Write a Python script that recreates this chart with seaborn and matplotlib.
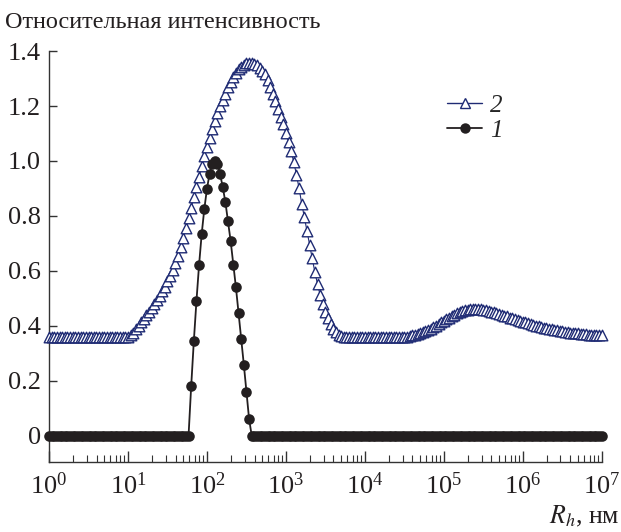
import numpy as np
import pandas as pd
import seaborn as sns
import matplotlib.pyplot as plt
from matplotlib.lines import Line2D
from matplotlib.ticker import LogLocator, NullFormatter, FixedLocator

# hydrodynamic radius grid: 30 bins per decade, 1 nm .. 1e7 nm
rh_nm = np.logspace(0, 7, 211)

# curve 2 (open triangles)
intensity_2 = (
    [0.358] * 31
    + [0.365, 0.375, 0.387, 0.399, 0.412, 0.425, 0.438, 0.452, 0.466, 0.480,
       0.495, 0.510, 0.526, 0.543, 0.562, 0.582, 0.603, 0.627, 0.655, 0.685,
       0.720, 0.755, 0.792, 0.830, 0.868, 0.905, 0.943, 0.980, 1.017, 1.052,
       1.085, 1.117, 1.147, 1.175, 1.200, 1.223, 1.245, 1.268, 1.288, 1.305,
       1.320, 1.333, 1.343, 1.350, 1.355, 1.357, 1.357, 1.354, 1.348, 1.338,
       1.328, 1.315, 1.295, 1.270, 1.245, 1.217, 1.190, 1.160, 1.135, 1.100,
       1.070, 1.035, 0.995, 0.950, 0.900, 0.845, 0.795, 0.745, 0.695, 0.645,
       0.595, 0.552, 0.512, 0.480, 0.452, 0.428, 0.407, 0.390, 0.377, 0.368,
       0.362]
    + [0.358] * 23
    + [0.360, 0.361, 0.363, 0.365, 0.367, 0.370, 0.373, 0.377, 0.381, 0.385,
       0.390, 0.395, 0.400, 0.406, 0.412, 0.418, 0.424, 0.430, 0.436, 0.441,
       0.446, 0.450, 0.454, 0.457, 0.459, 0.461, 0.462, 0.462, 0.461, 0.460,
       0.458, 0.456, 0.454, 0.452, 0.449, 0.446, 0.443, 0.440, 0.437, 0.434,
       0.430, 0.427, 0.424, 0.421, 0.418, 0.415, 0.412, 0.409, 0.406, 0.403,
       0.400, 0.398, 0.396, 0.393, 0.391, 0.389, 0.387, 0.385, 0.383, 0.381,
       0.380, 0.378, 0.377, 0.375, 0.374, 0.373, 0.372, 0.371, 0.370, 0.369,
       0.368, 0.367, 0.366, 0.366, 0.365, 0.365]
)

# curve 1 (filled circles)
intensity_1 = (
    [0.0] * 54
    + [0.180, 0.343, 0.490, 0.622, 0.735, 0.826, 0.899, 0.954, 0.990, 1.000,
       0.990, 0.951, 0.905, 0.850, 0.780, 0.708, 0.623, 0.540, 0.447, 0.352,
       0.259, 0.158, 0.061]
    + [0.0] * 134
)

df = pd.DataFrame({"Rh": rh_nm, "I2": intensity_2, "I1": intensity_1})

navy = "#1f2b74"
dark = "#231f20"

sns.set_style("ticks")
plt.rcParams["font.family"] = ["Liberation Serif", "DejaVu Serif"]
plt.rcParams["mathtext.fontset"] = "stix"

fig, ax = plt.subplots(figsize=(6.21, 5.32), dpi=100)
fig.subplots_adjust(left=0.079, right=0.969, bottom=0.132, top=0.904)

# curve 2: thin line plus every open triangle
sns.lineplot(data=df, x="Rh", y="I2", ax=ax, color=navy, linewidth=0.8,
             clip_on=False, legend=False)
sns.scatterplot(data=df, x="Rh", y="I2", ax=ax, marker="^", s=58,
                facecolor="white", edgecolor=navy, linewidth=1.0,
                clip_on=False, legend=False, zorder=3)

# curve 1: line plus filled circles
sns.lineplot(data=df, x="Rh", y="I1", ax=ax, color=dark, linewidth=1.3,
             clip_on=False, legend=False)
sns.scatterplot(data=df, x="Rh", y="I1", ax=ax, marker="o", s=58,
                color=dark, edgecolor=dark, linewidth=0,
                clip_on=False, legend=False, zorder=4)

ax.set_xscale("log")
ax.set_xlim(1, 1e7)
ax.set_ylim(-0.095, 1.4)
ax.xaxis.set_major_locator(LogLocator(base=10, numticks=10))
ax.xaxis.set_minor_locator(LogLocator(base=10, subs=np.arange(2, 10), numticks=20))
ax.xaxis.set_minor_formatter(NullFormatter())
ax.yaxis.set_major_locator(FixedLocator([0, 0.2, 0.4, 0.6, 0.8, 1.0, 1.2, 1.4]))
ax.set_yticklabels(["0", "0.2", "0.4", "0.6", "0.8", "1.0", "1.2", "1.4"])

ax.tick_params(axis="both", which="major", direction="in", labelsize=19,
               color="#333333", width=1.0, labelcolor="#231f20")
ax.tick_params(axis="x", which="major", length=8, pad=8)
ax.tick_params(axis="x", which="minor", direction="in", length=5,
               color="#333333", width=0.8)
ax.tick_params(axis="y", which="major", length=6, pad=6)

sns.despine(ax=ax)
for side in ["left", "bottom"]:
    ax.spines[side].set_color("#333333")
    ax.spines[side].set_linewidth(1.0)

ax.set_xlabel("")
ax.set_ylabel("")
fig.text(0.008, 0.958, "Относительная интенсивность", fontsize=17.5,
         ha="left", va="center", color="#231f20")
fig.text(0.998, 0.03, "$R_h$, нм", fontsize=18.5, ha="right", va="center",
         color="#231f20")

handles = [
    Line2D([], [], color=navy, linewidth=1.0, marker="^", markersize=7.5,
           markerfacecolor="white", markeredgecolor=navy, markeredgewidth=1.0),
    Line2D([], [], color=dark, linewidth=1.3, marker="o", markersize=7.5,
           markerfacecolor=dark, markeredgewidth=0),
]
ax.legend(handles, ["2", "1"], loc="upper left", bbox_to_anchor=(0.68, 0.95),
          frameon=False, prop={"style": "italic", "size": 18},
          handlelength=1.4, handletextpad=0.3, labelspacing=0.1, numpoints=1)

fig.savefig("out.png", dpi=100)
